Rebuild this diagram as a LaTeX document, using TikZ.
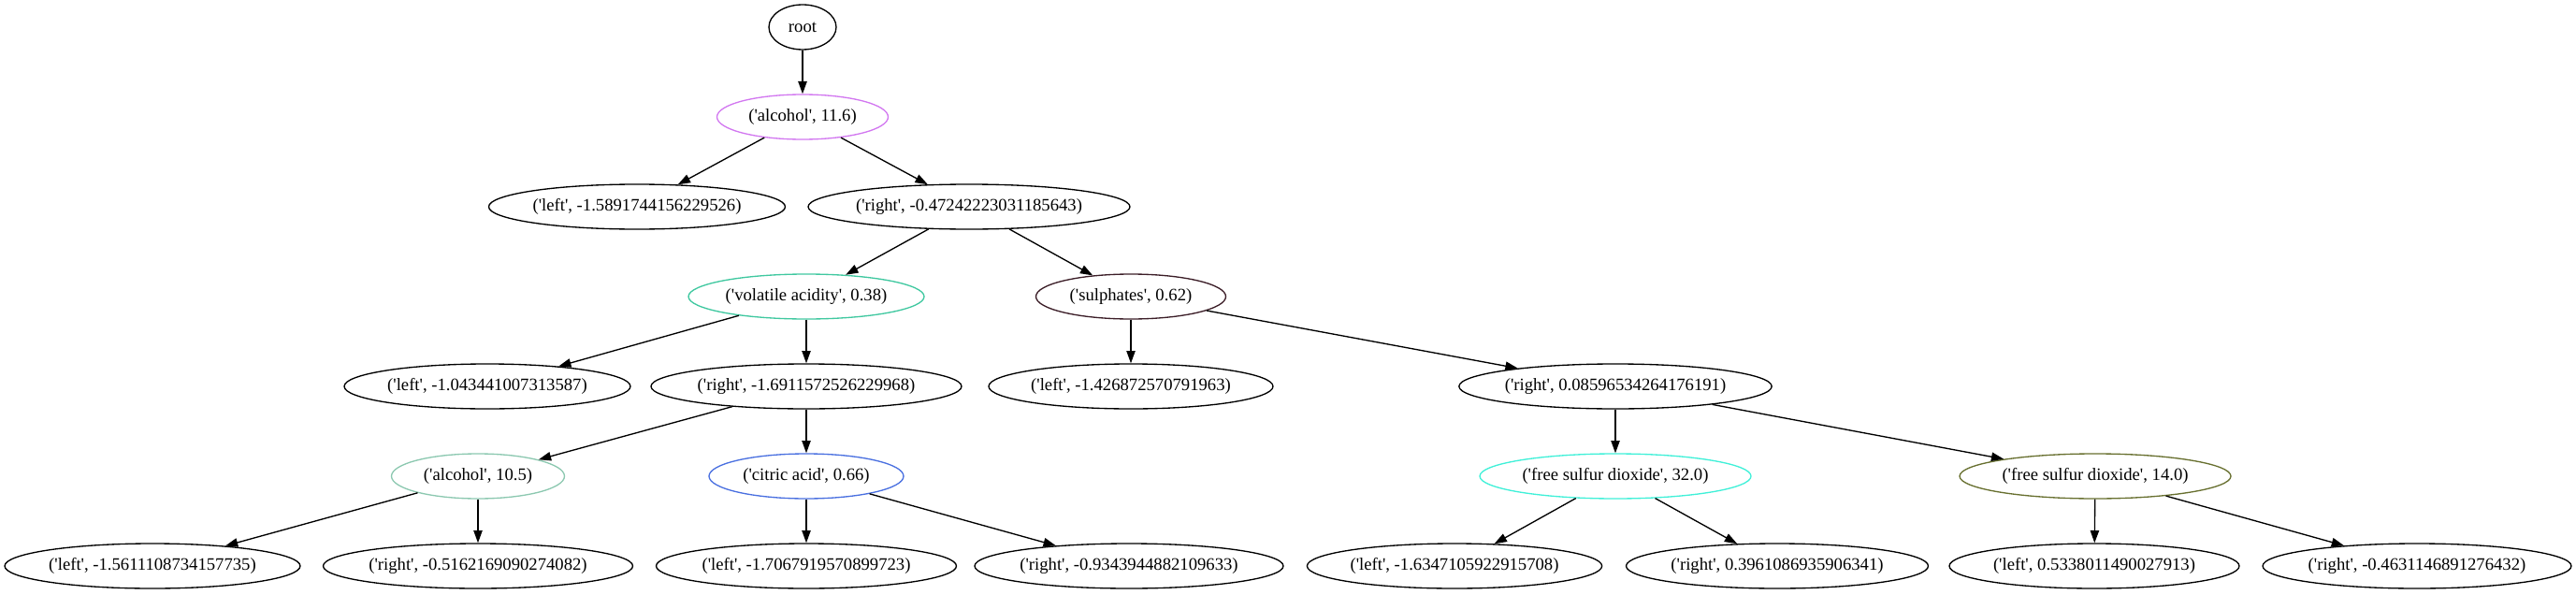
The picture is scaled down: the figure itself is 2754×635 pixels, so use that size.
\documentclass[tikz,border=0pt]{standalone}
\usepackage{fontspec}
\setmainfont{Liberation Serif}
\usetikzlibrary{arrows.meta,shapes.geometric}
\newcommand\qq{\textquotesingle}
\definecolor{cAlcA}{HTML}{D278F0}
\definecolor{cVol}{HTML}{40C8A0}
\definecolor{cSul}{HTML}{3C1E28}
\definecolor{cAlcB}{HTML}{8CC8B0}
\definecolor{cCit}{HTML}{4A70E0}
\definecolor{cFsdA}{HTML}{40F0D8}
\definecolor{cFsdB}{HTML}{687030}
\begin{document}
\begin{tikzpicture}[x=0.75pt,y=-0.75pt,
  nd/.style={ellipse,draw,line width=1pt,inner sep=0pt,minimum height=36pt,
    font=\fontsize{14pt}{16.8pt}\selectfont},
  wd/.style={minimum width=#1*0.75pt},
  edge/.style={line width=1pt,-{Triangle[length=10pt,width=7pt]}}]
\useasboundingbox (0,0) rectangle (2754,635);
\node[nd,wd=72] (root) at (858,29) {root};
\node[nd,wd=183,draw=cAlcA] (a1) at (858,125) {(\qq alcohol\qq, 11.6)};
\node[nd,wd=317] (l1) at (681,221) {(\qq left\qq, -1.5891744156229526)};
\node[nd,wd=344] (r1) at (1036,221) {(\qq right\qq, -0.47242223031185643)};
\node[nd,wd=252,draw=cVol] (va) at (862,317) {(\qq volatile acidity\qq, 0.38)};
\node[nd,wd=203,draw=cSul] (su) at (1209,317) {(\qq sulphates\qq, 0.62)};
\node[nd,wd=306] (l2) at (521,413) {(\qq left\qq, -1.043441007313587)};
\node[nd,wd=332] (r2) at (862,413) {(\qq right\qq, -1.6911572526229968)};
\node[nd,wd=304] (l3) at (1209,413) {(\qq left\qq, -1.426872570791963)};
\node[nd,wd=334] (r3) at (1727,413) {(\qq right\qq, 0.08596534264176191)};
\node[nd,wd=185,draw=cAlcB] (a2) at (511,509) {(\qq alcohol\qq, 10.5)};
\node[nd,wd=208,draw=cCit] (ca) at (862,509) {(\qq citric acid\qq, 0.66)};
\node[nd,wd=290,draw=cFsdA] (f1) at (1727,509) {(\qq free sulfur dioxide\qq, 32.0)};
\node[nd,wd=290,draw=cFsdB] (f2) at (2240,509) {(\qq free sulfur dioxide\qq, 14.0)};
\node[nd,wd=316] (b1) at (163,605) {(\qq left\qq, -1.5611108734157735)};
\node[nd,wd=331] (b2) at (511,605) {(\qq right\qq, -0.5162169090274082)};
\node[nd,wd=321] (b3) at (862,605) {(\qq left\qq, -1.7067919570899723)};
\node[nd,wd=330] (b4) at (1207,605) {(\qq right\qq, -0.9343944882109633)};
\node[nd,wd=315] (b5) at (1555,605) {(\qq left\qq, -1.6347105922915708)};
\node[nd,wd=323] (b6) at (1900,605) {(\qq right\qq, 0.3961086935906341)};
\node[nd,wd=310] (b7) at (2239,605) {(\qq left\qq, 0.5338011490027913)};
\node[nd,wd=330] (b8) at (2584,605) {(\qq right\qq, -0.4631146891276432)};
\draw[edge] (root) -- (a1);
\draw[edge] (a1) -- (l1);
\draw[edge] (a1) -- (r1);
\draw[edge] (r1) -- (va);
\draw[edge] (r1) -- (su);
\draw[edge] (va) -- (l2);
\draw[edge] (va) -- (r2);
\draw[edge] (su) -- (l3);
\draw[edge] (su) -- (r3);
\draw[edge] (r2) -- (a2);
\draw[edge] (r2) -- (ca);
\draw[edge] (r3) -- (f1);
\draw[edge] (r3) -- (f2);
\draw[edge] (a2) -- (b1);
\draw[edge] (a2) -- (b2);
\draw[edge] (ca) -- (b3);
\draw[edge] (ca) -- (b4);
\draw[edge] (f1) -- (b5);
\draw[edge] (f1) -- (b6);
\draw[edge] (f2) -- (b7);
\draw[edge] (f2) -- (b8);
\end{tikzpicture}
\end{document}
